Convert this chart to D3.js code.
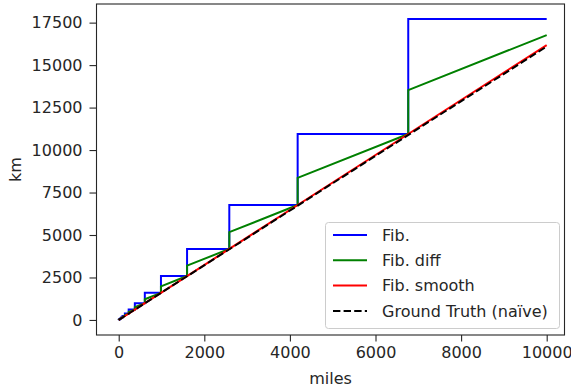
<!DOCTYPE html>
<html>
<head>
<meta charset="utf-8">
<script src="https://cdn.jsdelivr.net/npm/d3@7"></script>
<style>
  html, body { margin: 0; padding: 0; background: #fff; }
  svg { display: block; font-family: "DejaVu Sans", sans-serif; }
</style>
</head>
<body>
<svg id="chart" width="571" height="387"></svg>
<script>
// Fibonacci breakpoints in miles (last entry is the end of the range)
const miles = [0, 1, 2, 3, 5, 8, 13, 21, 34, 55, 89, 144, 233, 377, 610, 987, 1597, 2584, 4181, 6765, 10000];
// "Fib." estimate: km level held from each breakpoint
const fibKm = [0, 3, 5, 8, 13, 21, 34, 55, 89, 144, 233, 377, 610, 987, 1597, 2584, 4181, 6765, 10946, 17711, 17711];
// "Fib. diff": km at the start of each segment and just before the next breakpoint
const diffStartKm = [0, 2, 4, 6, 10, 16, 26, 42, 68, 110, 178, 288, 466, 754, 1220, 1974, 3194, 5168, 8362, 13530];
const diffEndKm = [1, 3, 5, 8, 13, 21, 34, 55, 89, 144, 233, 377, 610, 987, 1597, 2584, 4181, 6765, 10946, 16765];
// "Fib. smooth": km at each breakpoint
const smoothKm = [0, 2, 3, 5, 8, 13, 21, 34, 55, 89, 144, 233, 377, 610, 987, 1597, 2584, 4181, 6765, 10946, 16180];
// Ground truth (1 mi = 1.609 km)
const truthMiles = [0, 10000];
const truthKm = [0, 16093];

const xTicks = [0, 2000, 4000, 6000, 8000, 10000];
const yTicks = [0, 2500, 5000, 7500, 10000, 12500, 15000, 17500];
const seriesNames = ["Fib.", "Fib. diff", "Fib. smooth", "Ground Truth (naïve)"];
const seriesColors = ["#0000ff", "#008000", "#ff0000", "#000000"];

const svg = d3.select("#chart");
const mLeft = 96.5, mRight = 564.5, mTop = 4, mBottom = 335;
const fs = 16;

const x = d3.scaleLinear().domain([-519, 10416]).range([mLeft, mRight]);
const y = d3.scaleLinear().domain([-885.55, 18596.55]).range([mBottom, mTop]);

// Build vertex lists
const fibPts = miles.map((m, i) => [m, fibKm[i]]);
const diffPts = [];
for (let i = 0; i < diffStartKm.length; i++) {
  diffPts.push([miles[i], diffStartKm[i]]);
  diffPts.push([miles[i + 1], diffEndKm[i]]);
}
const smoothPts = miles.map((m, i) => [m, smoothKm[i]]);
const truthPts = truthMiles.map((m, i) => [m, truthKm[i]]);

svg.append("clipPath").attr("id", "clip").append("rect")
  .attr("x", mLeft).attr("y", mTop).attr("width", mRight - mLeft).attr("height", mBottom - mTop);
const lines = svg.append("g").attr("clip-path", "url(#clip)");

const line = d3.line().x(d => x(d[0])).y(d => y(d[1]));
const stepLine = d3.line().x(d => x(d[0])).y(d => y(d[1])).curve(d3.curveStepAfter);

lines.append("path").datum(fibPts).attr("d", stepLine)
  .attr("fill", "none").attr("stroke", seriesColors[0]).attr("stroke-width", 2);
lines.append("path").datum(diffPts).attr("d", line)
  .attr("fill", "none").attr("stroke", seriesColors[1]).attr("stroke-width", 2);
lines.append("path").datum(smoothPts).attr("d", line)
  .attr("fill", "none").attr("stroke", seriesColors[2]).attr("stroke-width", 2);
lines.append("path").datum(truthPts).attr("d", line)
  .attr("fill", "none").attr("stroke", seriesColors[3]).attr("stroke-width", 2)
  .attr("stroke-dasharray", "7.4,3.2");

// Axes
const xAxis = d3.axisBottom(x).tickValues(xTicks).tickFormat(d3.format("d")).tickSize(6.5).tickPadding(5.5);
const yAxis = d3.axisLeft(y).tickValues(yTicks).tickFormat(d3.format("d")).tickSize(7).tickPadding(7);

const gx = svg.append("g").attr("transform", `translate(0,${mBottom})`).call(xAxis);
const gy = svg.append("g").attr("transform", `translate(${mLeft},0)`).call(yAxis);
[gx, gy].forEach(g => {
  g.select(".domain").remove();
  g.selectAll("text").attr("font-size", fs).attr("fill", "#262626").attr("font-family", "DejaVu Sans");
  g.selectAll("line").attr("stroke", "#262626").attr("stroke-width", 1.1);
});

// Frame
svg.append("rect").attr("x", mLeft).attr("y", mTop).attr("width", mRight - mLeft).attr("height", mBottom - mTop)
  .attr("fill", "none").attr("stroke", "#262626").attr("stroke-width", 1.1);

// Axis labels
svg.append("text").attr("x", (mLeft + mRight) / 2).attr("y", 384).attr("text-anchor", "middle")
  .attr("font-size", fs).attr("fill", "#262626").text("miles");
svg.append("text").attr("transform", `translate(21,${(mTop + mBottom) / 2}) rotate(-90)`)
  .attr("text-anchor", "middle").attr("font-size", fs).attr("fill", "#262626").text("km");

// Legend
const lg = svg.append("g");
lg.append("rect").attr("x", 325.5).attr("y", 222.5).attr("width", 234).attr("height", 106).attr("rx", 3)
  .attr("fill", "#fff").attr("fill-opacity", 0.8).attr("stroke", "#cccccc").attr("stroke-width", 1);
seriesNames.forEach((name, i) => {
  const cy = 235 + i * 25.3;
  lg.append("line").attr("x1", 333).attr("x2", 367).attr("y1", cy).attr("y2", cy)
    .attr("stroke", seriesColors[i]).attr("stroke-width", 2)
    .attr("stroke-dasharray", i === 3 ? "7.4,3.2" : null);
  lg.append("text").attr("x", 382).attr("y", cy).attr("dy", "0.35em")
    .attr("font-size", fs).attr("fill", "#262626").text(name);
});
</script>
</body>
</html>
